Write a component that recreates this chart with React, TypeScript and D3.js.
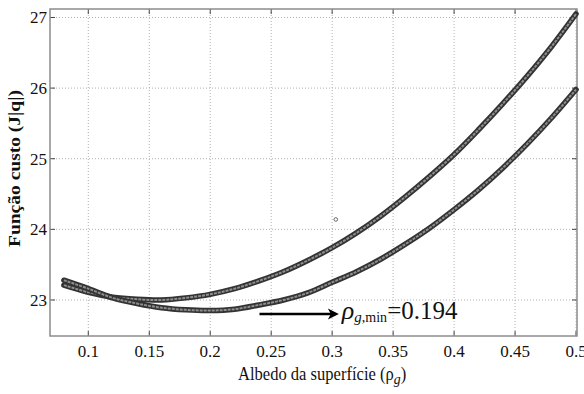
import React from "react";
import * as d3 from "d3";

const albedo = [0.08, 0.10, 0.12, 0.14, 0.16, 0.18, 0.20, 0.22, 0.24, 0.26, 0.28, 0.30, 0.32, 0.34, 0.36, 0.38, 0.40, 0.42, 0.44, 0.46, 0.48, 0.50];
const costUpper = [23.21, 23.11, 23.04, 23.01, 23.00, 23.03, 23.08, 23.16, 23.27, 23.40, 23.56, 23.74, 23.95, 24.19, 24.46, 24.75, 25.06, 25.41, 25.78, 26.17, 26.59, 27.05];
const costLower = [23.28, 23.16, 23.03, 22.95, 22.89, 22.86, 22.85, 22.87, 22.93, 23.00, 23.10, 23.25, 23.40, 23.58, 23.79, 24.02, 24.28, 24.56, 24.87, 25.21, 25.58, 25.98];
const strayPoint = { x: 0.303, y: 24.14 };
const xTicks = [0.1, 0.15, 0.2, 0.25, 0.3, 0.35, 0.4, 0.45, 0.5];
const yTicks = [23, 24, 25, 26, 27];
const xDomain = [0.0686, 0.5008];
const yDomain = [22.49, 27.12];
const arrowFrom = { x: 0.2404, y: 22.8 };
const arrowTo = { x: 0.3055, y: 22.8 };

const W = 584;
const H = 394;
const L = 50, R = 577, T = 9, B = 336;
const serif = "Liberation Serif";
const tf = { fontFamily: serif };

export default function App() {
  const x = d3.scaleLinear().domain(xDomain).range([L, R]);
  const y = d3.scaleLinear().domain(yDomain).range([B, T]);
  const line = d3
    .line<number>()
    .x((_, i) => x(albedo[i]))
    .y((v) => y(v))
    .curve(d3.curveCatmullRom);

  const series = [costUpper, costLower];
  const ax = x(arrowFrom.x);
  const bx = x(arrowTo.x);
  const ay = y(arrowFrom.y);

  return (
    <svg
      width={W}
      height={H}
      style={{ position: "absolute", left: 0, top: 0, background: "#fff", fontFamily: serif }}
    >
      <rect x={0} y={0} width={W} height={H} fill="#fff" />
      {/* grid */}
      {xTicks.map((t) => (
        <line key={"gx" + t} x1={x(t)} x2={x(t)} y1={T} y2={B} stroke="#b0b0b0" strokeWidth={1} strokeDasharray="1,2" />
      ))}
      {yTicks.map((t) => (
        <line key={"gy" + t} x1={L} x2={R} y1={y(t)} y2={y(t)} stroke="#b0b0b0" strokeWidth={1} strokeDasharray="1,2" />
      ))}
      {/* ticks */}
      {xTicks.map((t) => (
        <g key={"tx" + t}>
          <line x1={x(t)} x2={x(t)} y1={B} y2={B - 5} stroke="#444" strokeWidth={1} />
          <line x1={x(t)} x2={x(t)} y1={T} y2={T + 5} stroke="#444" strokeWidth={1} />
          <text x={x(t)} y={357} textAnchor="middle" fontSize={17} fill="#111" style={tf}>
            {String(t)}
          </text>
        </g>
      ))}
      {yTicks.map((t) => (
        <g key={"ty" + t}>
          <line x1={L} x2={L + 5} y1={y(t)} y2={y(t)} stroke="#444" strokeWidth={1} />
          <line x1={R} x2={R - 5} y1={y(t)} y2={y(t)} stroke="#444" strokeWidth={1} />
          <text x={47} y={y(t)} dy="0.35em" textAnchor="end" fontSize={17} fill="#111" style={tf}>
            {String(t)}
          </text>
        </g>
      ))}
      {/* frame */}
      <rect x={L} y={T} width={R - L} height={B - T} fill="none" stroke="#8c8c8c" strokeWidth={1.5} />
      {/* curves */}
      {series.map((s, i) => (
        <g key={"s" + i}>
          <path d={line(s) || ""} fill="none" stroke="#333" strokeWidth={5.5} strokeLinecap="round" />
          <path d={line(s) || ""} fill="none" stroke="#8e8e8e" strokeWidth={2} strokeDasharray="3,1" />
        </g>
      ))}
      <circle cx={x(strayPoint.x)} cy={y(strayPoint.y)} r={1.8} fill="#fff" stroke="#444" strokeWidth={0.8} />
      {/* annotation */}
      <line x1={ax} x2={bx - 6} y1={ay} y2={ay} stroke="#000" strokeWidth={2.5} />
      <path d={`M${bx},${ay} L${bx - 11},${ay - 5.5} L${bx - 8},${ay} L${bx - 11},${ay + 5.5} Z`} fill="#000" />
      <text x={bx + 3} y={319} fontSize={26} fill="#111" style={tf}>
        <tspan fontStyle="italic">ρ</tspan>
        <tspan fontStyle="italic" fontSize={15} dy={3}>g</tspan>
        <tspan fontSize={14}>,min</tspan>
        <tspan fontSize={25} dy={-3}>=0.194</tspan>
      </text>
      {/* axis labels */}
      <g transform="translate(238,380) scale(0.92,1)">
        <text x={0} y={0} fontSize={18} fill="#111" style={tf}>
          Albedo da superfície (ρ<tspan fontStyle="italic" fontSize={15} dy={4}>g</tspan><tspan dy={-4}>)</tspan>
        </text>
      </g>
      <g transform="translate(20,168.5) rotate(-90)">
        <text
          x={0}
          y={0}
          textAnchor="middle"
          fontSize={16}
          fontWeight="bold"
          fill="#111"
          style={tf}
          textLength={157}
          lengthAdjust="spacingAndGlyphs"
        >
          Função custo (J|q|)
        </text>
      </g>
    </svg>
  );
}
